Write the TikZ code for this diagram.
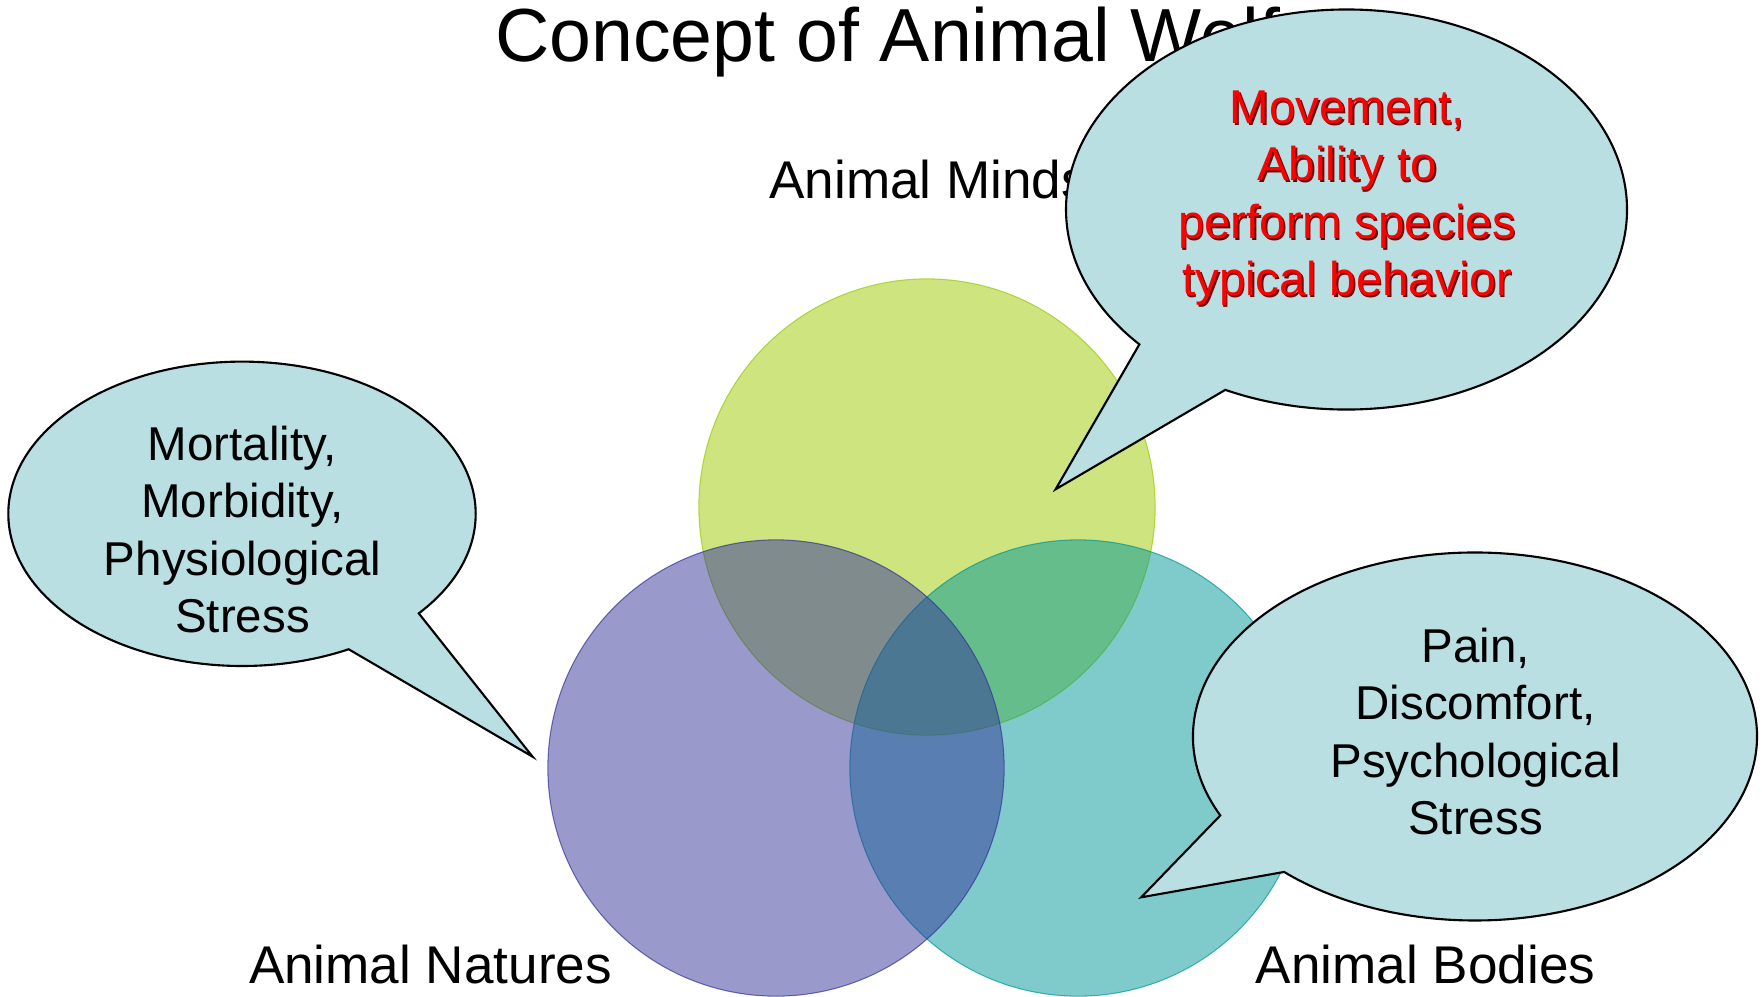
\documentclass[tikz,border=0pt]{standalone}
\usepackage{fontspec}
\setmainfont{Liberation Sans}
\usepackage{xcolor}

\definecolor{mindsgreen}{RGB}{155,201,0}
\definecolor{naturespurple}{RGB}{51,51,153}
\definecolor{bodiesteal}{RGB}{0,151,153}
\definecolor{bubblefill}{RGB}{185,223,226}
\definecolor{redshadow}{RGB}{110,0,0}

% red text with a dark drop shadow
\newcommand{\shadowline}[1]{\makebox[0pt][l]{\hspace{0.5pt}\raisebox{-0.5pt}{\color{redshadow}#1}}\mbox{#1}}

\begin{document}
\begin{tikzpicture}[x=0.01cm, y=-0.01cm,
    venn/.style={circle, minimum size=4.56cm, inner sep=0pt, fill opacity=0.5, draw opacity=0.7, line width=0.3pt},
    bubble/.style={draw=black, fill=bubblefill, line width=0.6pt},
    bubbletext/.style={align=center, inner sep=0pt, text depth=0pt, font=\fontsize{13.5}{16.35}\selectfont},
    vennlabel/.style={anchor=base west, inner sep=0pt, font=\fontsize{15.1}{18}\selectfont}]

        \useasboundingbox (0,0) rectangle (1762,996);

        % Title and set names
        \node[anchor=base west, inner sep=0pt, font=\fontsize{21.4}{26}\selectfont] (title) at (494.4,61.7) {Concept of Animal Welfare};
        \node[vennlabel] (mindsname) at (768.6,198.6) {Animal Minds};
        \node[vennlabel] (naturesname) at (248.3,983.2) {Animal Natures};
        \node[vennlabel] (bodiesname) at (1255.2,983.2) {Animal Bodies};

        % Circles of the Venn diagram
        \node[venn, fill=mindsgreen, draw=mindsgreen] (minds) at (927,507) {};
        \node[venn, fill=bodiesteal, draw=bodiesteal] (bodies) at (1078,768) {};
        \node[venn, fill=naturespurple, draw=naturespurple] (natures) at (776,768) {};

        % Left speech bubble
        \coordinate (lc) at (242,513.8);
        \coordinate (ltip) at (532.6,756.7);
        \draw[bubble] (lc) ++(40.85:233.7 and 152.2) arc[start angle=40.85, end angle=-297.15, x radius=233.7, y radius=152.2] -- (ltip) -- cycle;
        \node[bubbletext] (lefttext) at (242.5,529.5) {Mortality,\\Morbidity,\\Physiological\\Stress};

        % Top right speech bubble
        \coordinate (tc) at (1346.5,209.5);
        \coordinate (ttip) at (1055.6,489.3);
        \draw[bubble] (tc) ++(115.6:280.5 and 200) arc[start angle=115.6, end angle=-222.4, x radius=280.5, y radius=200] -- (ttip) -- cycle;
        \node[bubbletext, text=red] (toptext) at (1347,193.3) {\shadowline{Movement,}\\\shadowline{Ability to}\\\shadowline{perform species}\\\shadowline{typical behavior}};

        % Bottom right speech bubble
        \coordinate (rc) at (1475,736.5);
        \coordinate (rtip) at (1141.2,897.3);
        \draw[bubble] (rc) ++(154.6:282 and 184) arc[start angle=154.6, end angle=492.6, x radius=282, y radius=184] -- (rtip) -- cycle;
        \node[bubbletext] (righttext) at (1475.5,731.5) {Pain,\\Discomfort,\\Psychological\\Stress};

    \end{tikzpicture}
\end{document}
